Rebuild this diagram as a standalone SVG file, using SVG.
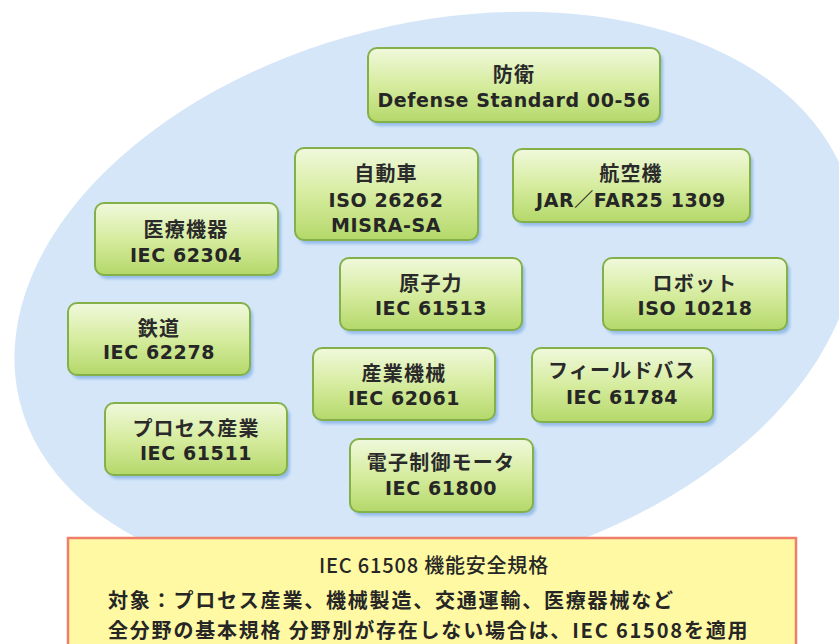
<svg xmlns="http://www.w3.org/2000/svg" width="839" height="644" viewBox="0 0 839 644">
<defs>
<linearGradient id="g" x1="0" y1="0" x2="0" y2="1">
<stop offset="0" stop-color="#f0f9dc"/>
<stop offset="0.5" stop-color="#d6ec9f"/>
<stop offset="1" stop-color="#b4d86a"/>
</linearGradient>
<filter id="sh" x="-10%" y="-10%" width="130%" height="140%">
<feGaussianBlur stdDeviation="1.5"/>
</filter>
</defs>
<style>
.sh{fill:#96bde8;filter:url(#sh)}
.bx{fill:url(#g);stroke:#84b04a;stroke-width:2}
text{font-family:"DejaVu Sans","Noto Sans CJK JP",sans-serif;font-size:19px;font-weight:bold;fill:#262626;text-anchor:middle;dominant-baseline:central;letter-spacing:0.6px}
.jp{font-family:"Noto Sans CJK JP",sans-serif;font-size:20px;font-weight:bold;fill:#2a2a2a;letter-spacing:1.2px}
.bt{text-anchor:start;font-family:"Noto Sans CJK JP",sans-serif;font-size:20px;font-weight:bold;letter-spacing:1.8px}
</style>
<rect width="839" height="644" fill="#ffffff"/>
<ellipse cx="435" cy="298" rx="428" ry="275" transform="rotate(-14 435 298)" fill="#d5e6f9"/>
<g id="connectors"></g>
<g id="n-defense"><rect class="sh" x="371" y="52" width="292" height="74" rx="9"/><rect class="bx" x="368" y="48" width="292" height="74" rx="9"/><text class="jp" x="514" y="73">防衛</text><text x="514" y="100">Defense Standard 00-56</text></g>
<g id="n-auto"><rect class="sh" x="298" y="152" width="183" height="92" rx="9"/><rect class="bx" x="295" y="148" width="183" height="92" rx="9"/><text class="jp" x="386" y="172">自動車</text><text x="386" y="200">ISO 26262</text><text x="386" y="225">MISRA-SA</text></g>
<g id="n-aircraft"><rect class="sh" x="516" y="153" width="237" height="73" rx="9"/><rect class="bx" x="513" y="149" width="237" height="73" rx="9"/><text class="jp" x="631" y="172">航空機</text><text x="631" y="200">JAR／FAR25 1309</text></g>
<g id="n-medical"><rect class="sh" x="98" y="207" width="183" height="72" rx="9"/><rect class="bx" x="95" y="203" width="183" height="72" rx="9"/><text class="jp" x="186" y="228">医療機器</text><text x="186" y="255">IEC 62304</text></g>
<g id="n-nuclear"><rect class="sh" x="343" y="262" width="182" height="72" rx="9"/><rect class="bx" x="340" y="258" width="182" height="72" rx="9"/><text class="jp" x="431" y="282">原子力</text><text x="431" y="308">IEC 61513</text></g>
<g id="n-robot"><rect class="sh" x="606" y="262" width="184" height="72" rx="9"/><rect class="bx" x="603" y="258" width="184" height="72" rx="9"/><text class="jp" x="695" y="282">ロボット</text><text x="695" y="308">ISO 10218</text></g>
<g id="n-rail"><rect class="sh" x="71" y="307" width="182" height="72" rx="9"/><rect class="bx" x="68" y="303" width="182" height="72" rx="9"/><text class="jp" x="159" y="327">鉄道</text><text x="159" y="352">IEC 62278</text></g>
<g id="n-machinery"><rect class="sh" x="316" y="352" width="182" height="72" rx="9"/><rect class="bx" x="313" y="348" width="182" height="72" rx="9"/><text class="jp" x="404" y="372">産業機械</text><text x="404" y="398">IEC 62061</text></g>
<g id="n-fieldbus"><rect class="sh" x="535" y="352" width="181" height="74" rx="9"/><rect class="bx" x="532" y="348" width="181" height="74" rx="9"/><text class="jp" x="622" y="369">フィールドバス</text><text x="622" y="397">IEC 61784</text></g>
<g id="n-process"><rect class="sh" x="108" y="407" width="182" height="72" rx="9"/><rect class="bx" x="105" y="403" width="182" height="72" rx="9"/><text class="jp" x="196" y="427">プロセス産業</text><text x="196" y="453">IEC 61511</text></g>
<g id="n-motor"><rect class="sh" x="353" y="443" width="183" height="73" rx="9"/><rect class="bx" x="350" y="439" width="183" height="73" rx="9"/><text class="jp" x="441" y="461">電子制御モータ</text><text x="441" y="488">IEC 61800</text></g>
<g id="n-iec61508">
<rect x="68" y="538" width="728" height="120" fill="#fff9a3" stroke="#ef7f6a" stroke-width="2.5"/>
<text x="434" y="564" style="font-family:'Noto Sans CJK JP',sans-serif;font-size:20px;font-weight:500;letter-spacing:0.8px">IEC 61508 機能安全規格</text>
<text class="bt" x="108" y="599">対象：プロセス産業、機械製造、交通運輸、医療器械など</text>
<text class="bt" x="108" y="629">全分野の基本規格 分野別が存在しない場合は、IEC 61508を適用</text>
</g>
</svg>
